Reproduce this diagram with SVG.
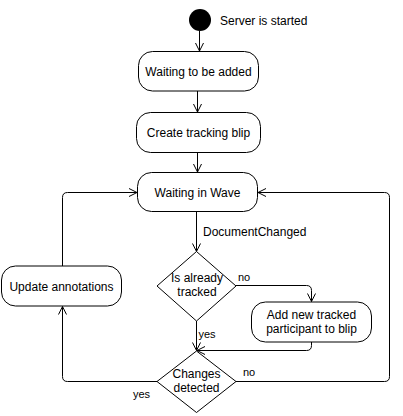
<svg xmlns="http://www.w3.org/2000/svg" width="403" height="416" viewBox="0 0 403 416">
  <defs>
    <marker id="arr" markerUnits="userSpaceOnUse" markerWidth="12" markerHeight="12" viewBox="-10 -6 12 12" refX="0" refY="0" orient="auto">
      <path d="M-8,-4 L0,0 L-8,4" fill="none" stroke="#000" stroke-width="1"/>
    </marker>
  </defs>
  <style>
    .box { fill: #fff; stroke: #000; stroke-width: 1; }
    .dia { fill: #fff; stroke: #000; stroke-width: 1; }
    .edge { fill: none; stroke: #000; stroke-width: 1; marker-end: url(#arr); }
    text { font-family: "Liberation Sans", Arial, sans-serif; font-size: 12px; fill: #000; }
    .c { text-anchor: middle; }
    .lbl { font-size: 11px; }
  </style>
  <rect width="403" height="416" fill="#fff"/>

  <g id="connectors">
    <path class="edge" d="M199.5,31 L199.5,51"/>
    <path class="edge" d="M197.5,91 L197.5,112"/>
    <path class="edge" d="M197.5,152.5 L197.5,172"/>
    <path class="edge" d="M196.5,211.5 L196.5,251.5"/>
    <path class="edge" d="M236,285.5 L306.5,285.5 Q311.5,285.5 311.5,290.5 L311.5,301.5"/>
    <path class="edge" d="M196.5,321 L196.5,350.5"/>
    <path class="edge" d="M311.5,342 L311.5,345.5 Q311.5,350.5 306.5,350.5 L197,350.5"/>
    <path class="edge" d="M236,381.5 L384.5,381.5 Q389.5,381.5 389.5,376.5 L389.5,197.5 Q389.5,192.5 384.5,192.5 L258,192.5"/>
    <path class="edge" d="M157,381.5 L67.5,381.5 Q62.5,381.5 62.5,376.5 L62.5,306.5"/>
    <path class="edge" d="M62.5,266 L62.5,197.5 Q62.5,192.5 67.5,192.5 L137,192.5"/>
  </g>

  <g id="start">
    <circle cx="200" cy="20" r="11" fill="#000"/>
    <text x="220" y="24.5">Server is started</text>
  </g>

  <g id="waiting-added">
    <rect class="box" x="138.5" y="51.5" width="120" height="39.5" rx="14" ry="14"/>
    <text class="c" x="198.5" y="75.5">Waiting to be added</text>
  </g>

  <g id="create-blip">
    <rect class="box" x="136.5" y="112.5" width="124" height="40" rx="14" ry="14"/>
    <text class="c" x="198.5" y="136.5">Create tracking blip</text>
  </g>

  <g id="waiting-wave">
    <rect class="box" x="137.5" y="172.5" width="120" height="39" rx="14" ry="14"/>
    <text class="c" x="197.5" y="196.5">Waiting in Wave</text>
  </g>

  <g id="doc-changed-label">
    <text x="203" y="235.5">DocumentChanged</text>
  </g>

  <g id="is-tracked">
    <polygon class="dia" points="196.5,251.5 236,286 196.5,321 157,286"/>
    <text class="c" x="197" y="282">Is already</text>
    <text class="c" x="197" y="296">tracked</text>
    <text class="lbl" x="238" y="281">no</text>
    <text class="lbl" x="198.5" y="338">yes</text>
  </g>

  <g id="add-participant">
    <rect class="box" x="251.5" y="302" width="120" height="40" rx="14" ry="14"/>
    <text class="c" x="311.5" y="318.5">Add new tracked</text>
    <text class="c" x="311.5" y="332.5">participant to blip</text>
  </g>

  <g id="changes-detected">
    <polygon class="dia" points="196.5,351 236,381.5 196.5,412.5 157,381.5"/>
    <text class="c" x="196.5" y="377.5">Changes</text>
    <text class="c" x="196.5" y="391.5">detected</text>
    <text class="lbl" x="243" y="376">no</text>
    <text class="lbl" x="133" y="398">yes</text>
  </g>

  <g id="update-annotations">
    <rect class="box" x="1.5" y="266" width="120" height="40" rx="14" ry="14"/>
    <text class="c" x="61.5" y="290.5">Update annotations</text>
  </g>
</svg>
